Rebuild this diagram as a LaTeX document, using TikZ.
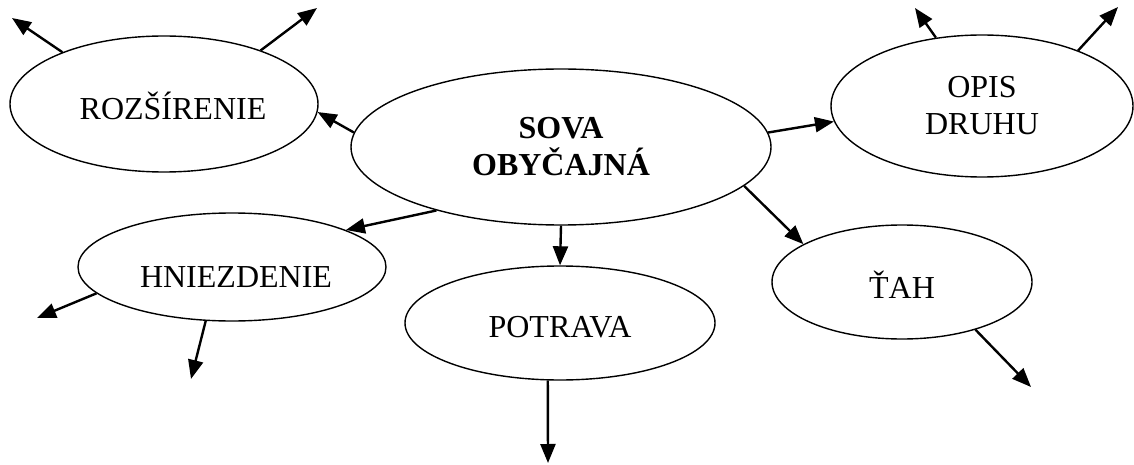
\documentclass[tikz,border=0pt]{standalone}
\usepackage{fontspec}
\setmainfont{Liberation Serif}
\usetikzlibrary{arrows.meta,shapes.geometric}

\begin{document}
\begin{tikzpicture}[x=1pt, y=-1pt, font=\fontsize{32}{37}\selectfont, line width=2.4pt, -{Triangle[length=19pt,width=15pt]},
	topic/.style={draw, ellipse, line width=1.4pt, inner sep=0pt, align=center},
	lowtext/.style={text height=#1, text depth=0pt}]
	\useasboundingbox (0,0) rectangle (1134,465);
	\node[topic, lowtext=32pt, minimum width=308pt, minimum height=136pt] (rozs) at (164,104) {\hspace*{18pt}ROZŠÍRENIE};
	\node[topic, minimum width=420pt, minimum height=156pt] (sova) at (561,147) {\textbf{SOVA}\\\textbf{OBYČAJNÁ}};
	\node[topic, minimum width=302pt, minimum height=142pt] (opis) at (982,106) {OPIS\\DRUHU};
	\node[topic, lowtext=40pt, minimum width=308pt, minimum height=108pt] (hniez) at (232,267) {\hspace*{8pt}HNIEZDENIE};
	\node[topic, lowtext=28pt, minimum width=310pt, minimum height=114pt] (potr) at (560,323) {POTRAVA};
	\node[topic, lowtext=32pt, minimum width=260pt, minimum height=114pt] (tah) at (902,282) {ŤAH};
	\coordinate (rozsA) at (12,18);
	\coordinate (rozsB) at (317,8);
	\coordinate (opisA) at (915,8);
	\coordinate (opisB) at (1118,7);
	\coordinate (hniezA) at (37,318);
	\coordinate (hniezB) at (191,379);
	\coordinate (potrA) at (548,463);
	\coordinate (tahA) at (1031,387);
	\draw (sova.176) -- (rozs.-3);
	\draw (sova.4) -- (opis.186);
	\draw (sova.207) -- (hniez.18);
	\draw (sova.south) -- (potr.north);
	\draw (sova.-12.4) -- (tah.159);
	\draw (rozs.153) -- (rozsA);
	\draw (rozs.29.5) -- (rozsB);
	\draw (opis.124.5) -- (opisA);
	\draw (opis.30.4) -- (opisB);
	\draw (hniez.191.5) -- (hniezA);
	\draw (hniez.244) -- (hniezB);
	\draw (potr.-102) -- (potrA);
	\draw (tah.-33.3) -- (tahA);
\end{tikzpicture}
\end{document}
